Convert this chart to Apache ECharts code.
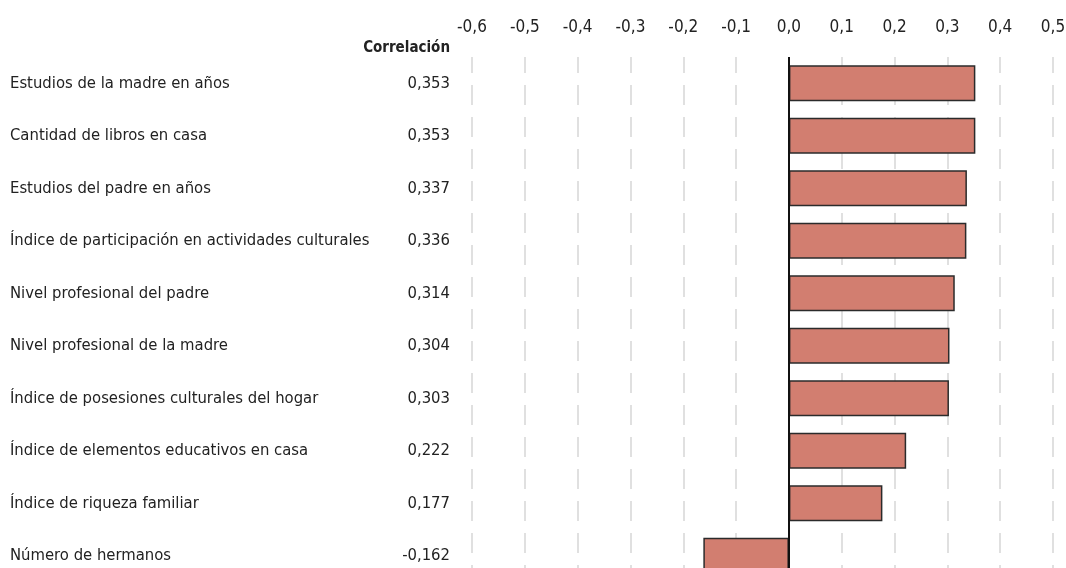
<!DOCTYPE html>
<html>
<head>
<meta charset="utf-8">
<script src="https://cdn.jsdelivr.net/npm/echarts@6/dist/echarts.min.js"></script>
<style>
html,body{margin:0;padding:0;background:#fff;}
#chart{width:1066px;height:568px;}
</style>
</head>
<body>
<div id="chart"></div>
<script>
const categories = [
  "Estudios de la madre en años",
  "Cantidad de libros en casa",
  "Estudios del padre en años",
  "Índice de participación en actividades culturales",
  "Nivel profesional del padre",
  "Nivel profesional de la madre",
  "Índice de posesiones culturales del hogar",
  "Índice de elementos educativos en casa",
  "Índice de riqueza familiar",
  "Número de hermanos"
];
const correlations = [0.353, 0.353, 0.337, 0.336, 0.314, 0.304, 0.303, 0.222, 0.177, -0.162];
const columnTitle = "Correlación";
const xMin = -0.6, xMax = 0.5, xStep = 0.1;

const FONT = '"Liberation Sans Narrow", "DejaVu Sans Condensed", "Liberation Sans", sans-serif';
const fmt = v => v.toFixed(3).replace('.', ',');

const chart = echarts.init(document.getElementById('chart'), null, {renderer: 'canvas'});
chart.setOption({
  animation: false,
  backgroundColor: '#ffffff',
  title: {
    text: columnTitle,
    right: 611,
    top: 36,
    textStyle: {fontFamily: FONT, fontSize: 15, fontWeight: 'bold', color: '#222'}
  },
  grid: {left: 472, right: 13, top: 57, height: 525, containLabel: false, outerBoundsMode: 'none'},
  xAxis: {
    type: 'value',
    position: 'top',
    min: xMin, max: xMax, interval: xStep,
    axisLine: {show: false},
    axisTick: {show: false},
    axisLabel: {
      margin: 21,
      fontFamily: FONT, fontSize: 17, color: '#222',
      formatter: v => (Math.round(v * 10) / 10).toFixed(1).replace('.', ',')
    },
    splitLine: {show: true, lineStyle: {color: '#d6d6d6', width: 1.5, type: [20, 12], dashOffset: 4}}
  },
  yAxis: {
    type: 'category',
    inverse: true,
    data: categories,
    axisLine: {show: false},
    axisTick: {show: false},
    splitLine: {show: false},
    axisLabel: {
      margin: 22,
      formatter: (name, i) => '{n|' + name + '}{v|' + fmt(correlations[i]) + '}',
      rich: {
        n: {width: 380, align: 'left', fontFamily: FONT, fontSize: 16.5, color: '#222'},
        v: {width: 60, align: 'right', fontFamily: FONT, fontSize: 16.5, color: '#222'}
      }
    }
  },
  series: [{
    type: 'bar',
    data: correlations,
    barWidth: 36,
    itemStyle: {color: '#d27e70', borderColor: '#2b2b2b', borderWidth: 1.5},
    markLine: {
      silent: true,
      symbol: 'none',
      label: {show: false},
      lineStyle: {color: '#111', width: 2, type: 'solid'},
      data: [{xAxis: 0}]
    },
    z: 3
  }]
});
</script>
</body>
</html>
